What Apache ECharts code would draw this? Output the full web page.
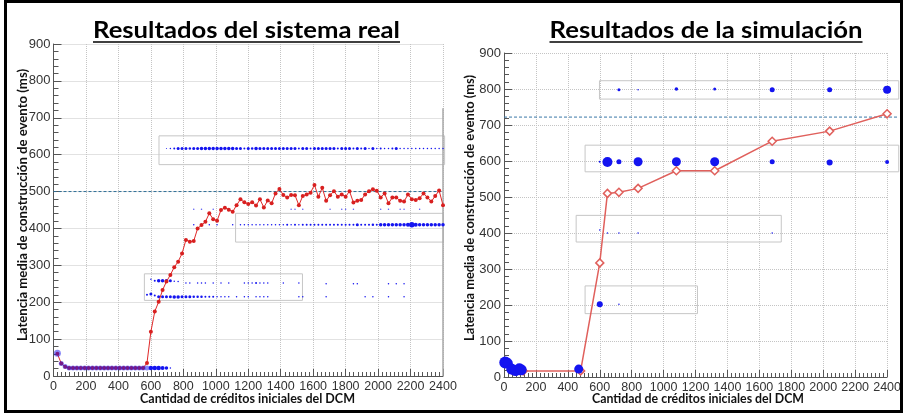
<!DOCTYPE html>
<html>
<head>
<meta charset="utf-8">
<title>Latencia media de construcción de evento</title>
<script src="https://cdn.jsdelivr.net/npm/echarts@6/dist/echarts.min.js"></script>
<style>html,body{margin:0;background:#fff;}</style>
</head>
<body>
<div id="main" style="width:904px;height:414px;"></div>
<script type="text/javascript">
// ---------- Resultados del sistema real ----------
var realX = [24,48,72,96,120,144,168,192,216,240,264,288,312,336,360,384,408,432,456,480,504,528,552,
    576,600,624,648,672,696,720,744,768,792,816,840,864,888,912,936,960,984,1008,1032,1056,1080,1104,1128,
    1152,1176,1200,1224,1248,1272,1296,1320,1344,1368,1392,1416,1440,1464,1488,1512,1536,1560,1584,1608,
    1632,1656,1680,1704,1728,1752,1776,1800,1824,1848,1872,1896,1920,1944,1968,1992,2016,2040,2064,2088,
    2112,2136,2160,2184,2208,2232,2256,2280,2304,2328,2352,2376,2400];
var realLat = [60,34,25,22,22,22,22,22,22,22,22,22,22,22,22,22,22,22,22,22,22,22,22,
    35,120,175,201,233,256,274,295,310,332,369,364,366,400,409,418,441,425,421,450,456,451,445,463,
    479,471,466,471,462,479,457,476,468,495,507,491,484,491,490,463,488,492,497,518,
    486,510,475,490,501,486,492,486,501,470,475,477,492,501,506,502,484,495,468,484,
    484,475,473,492,479,477,482,495,484,473,488,503,463];

// puntos azules [creditos, latencia, tamaño]
var realBajoSolapado = [[24,62,7],[48,34,5],[72,26,5],[96,22,5],[120,22,5],[144,22,5],[168,22,5],[192,22,5],
    [216,22,5],[240,22,5],[264,22,5],[288,22,5],[312,22,5],[336,22,5],[360,22,5],[384,22,5],[408,22,5],
    [432,22,5],[456,22,5],[480,22,5],[504,22,5],[528,22,5],[552,22,5],[576,22,5]];
var realBajoSolo = [[600,22,4.5],[624,22,4.5],[648,22,4.5],[672,22,4],[696,22,3.5],[720,22,1.5]];
var realFila617 = [[696,617,1],[720,617,1.5],[744,617,2],[768,617,3],[792,617,3],[816,617,3],[840,617,2.5],
    [864,617,3],[888,617,3],[912,617,3.5],[936,617,3.5],[960,617,3.5],[984,617,3.5],[1008,617,3.5],
    [1032,617,3.5],[1056,617,3.5],[1080,617,3.5],[1104,617,3.5],[1128,617,3],[1152,617,3],[1176,617,2],
    [1200,617,3],[1224,617,2.5],[1248,617,3.5],[1272,617,3],[1296,617,3],[1320,617,3],[1344,617,3],
    [1368,617,3],[1392,617,3],[1416,617,3],[1440,617,3],[1464,617,3],[1488,617,3],[1512,617,2],[1536,617,3],
    [1560,617,3],[1584,617,2],[1608,617,3],[1632,617,3],[1656,617,3],[1680,617,3],[1704,617,3],[1728,617,3],
    [1752,617,2],[1776,617,3],[1800,617,3],[1824,617,3],[1848,617,2],[1872,617,3],[1896,617,2],[1920,617,3],
    [1944,617,1.5],[1968,617,3],[1992,617,1.5],[2016,617,2],[2040,617,1.5],[2064,617,1.5],[2088,617,2],
    [2112,617,3],[2136,617,1.5],[2160,617,1.5],[2184,617,1.5],[2208,617,1.5],[2232,617,1.5],[2256,617,1.5],
    [2280,617,1.5],[2304,617,1.5],[2328,617,1.5],[2352,617,1.5],[2376,617,1.5],[2400,617,1.5]];
var realFila452 = [[864,452,1.5],[912,452,1.5],[984,452,1.5],[1464,452,1.5],[1488,452,1.5],[1536,452,1.5],
    [1704,452,1.5],[1776,452,1.5],[1800,452,1.5],[1848,452,1.5],[2016,452,1.5],[2064,452,1.5],
    [2136,452,1.5],[2160,452,1.5],[2256,452,1.5]];
var realFila410 = [[864,410,1.5],[912,410,1.5],[960,410,1.5],[1008,410,1.5],[1104,410,1.5],[1152,410,1.5],
    [1176,410,1.5],[1200,410,1.5],[1224,410,1.5],[1248,410,1.5],[1272,410,1.5],[1296,410,1.5],[1320,410,1.5],
    [1344,410,1.5],[1368,410,1.5],[1392,410,1.5],[1416,410,1.5],[1440,410,2],[1464,410,1.5],[1488,410,2],
    [1512,410,1.5],[1536,410,2],[1560,410,2],[1584,410,2],[1608,410,2],[1632,410,2],[1656,410,2],[1680,410,2],
    [1704,410,2],[1728,410,2],[1752,410,2],[1776,410,2],[1800,410,2],[1824,410,2],[1848,410,2],[1872,410,3],
    [1896,410,2],[1920,410,2],[1944,410,2],[1968,410,2.5],[1992,410,2],[2016,410,3.5],[2040,410,3.5],
    [2064,410,3.5],[2088,410,3.5],[2112,410,3.5],[2136,410,3.5],[2160,410,3.5],[2184,410,4],[2208,410,5.5],
    [2232,410,4],[2256,410,3.5],[2280,410,3.5],[2304,410,3.5],[2328,410,3.5],[2352,410,3.5],[2376,410,3.5],
    [2400,410,3.5]];
var realFila258 = [[600,262,1.5],[624,258,2],[648,258,3.5],[672,258,3.5],[696,258,3.5],[720,258,3],
    [744,257,1.5],[768,256,1.5],[816,252,1.5],[840,252,1.5],[888,252,1.5],[912,252,1.5],[936,252,1.5],
    [984,252,1.5],[1032,252,1.5],[1080,252,1.5],[1176,252,1.5],[1200,252,1.5],[1224,252,1.5],[1248,252,2],
    [1272,252,1.5],[1296,252,1.5],[1320,252,1.5],[1416,252,1.5],[1512,252,1.5],[1680,250,1.5],[1848,250,1.5],
    [1872,250,1.5],[2064,250,1.5],[2112,250,1.5],[2160,250,1.5]];
var realFila216 = [[576,220,2],[600,222,3],[624,218,2],[648,215,3],[672,215,3],[696,215,3],[720,215,3],
    [744,214,3.5],[768,214,3.5],[792,215,3],[816,215,3],[840,215,3],[864,215,2.5],[888,215,2.5],[912,215,2.5],
    [936,215,2],[960,215,2],[984,215,2],[1008,215,1.5],[1032,215,1.5],[1056,215,1.5],[1080,215,1.5],
    [1128,215,1.5],[1176,215,1.5],[1200,215,1.5],[1248,215,1.5],[1272,215,1.5],[1296,215,1.5],[1320,215,1.5],
    [1512,215,1.5],[1536,215,1.5],[1680,215,1.5],[1920,215,1.5],[1968,215,1.5],[2064,215,1.5],[2160,215,1.5]];
// recuadros [x1, y1, x2, y2]
var realCajas = [[650,573,2410,651],[1122,363,2402,441],[560,205,1534,277]];
var realReferencia = 500;

// ---------- Resultados de la simulación ----------
var simX = [12,48,72,96,120,480,600,648,720,840,1080,1320,1680,2040,2400];
var simLat = [40,20,17,18,17,17,317,510,513,524,573,573,655,683,731];
var simPuntos = [[8,40,12],[24,38,10],[48,22,11],[72,18,11],[96,24,10],[108,20,11],[468,22,9],
    [600,202,6],[720,202,1.5],
    [600,408,1.5],[648,400,1.5],[720,400,1.5],[840,400,1.5],[1680,400,1.5],
    [600,598,2],[648,597,10],[720,598,5],[840,598,9],[1080,598,9],[1320,598,9],[1680,598,5],[2040,596,6],[2400,597,4],
    [720,798,3],[840,798,1.5],[1080,800,3.5],[1320,800,3],[1680,798,5],[2040,798,5],[2400,798,8]];
var simCajas = [[598,772,2473,823],[508,570,2473,644],[452,375,1737,449],[508,176,1212,253]];
var simReferencia = 722;

var textoX = 'Cantidad de créditos iniciales del DCM';
var textoY = 'Latencia media de construcción de evento (ms)';

function pares(xs, ys) {
    return xs.map(function (x, i) { return [x, ys[i]]; });
}

var ctx = document.createElement('canvas').getContext('2d');
function ancho(texto, fuente) {
    ctx.font = fuente;
    return ctx.measureText(texto).width;
}

var ejeGris = '#555555';
function ejeX(idx) {
    return {
        type: 'value', gridIndex: idx, min: 0, max: 2400, interval: 200,
        axisLine: {lineStyle: {color: ejeGris, width: 1}},
        axisTick: {inside: true, length: 7, lineStyle: {color: ejeGris}},
        minorTick: {show: true, splitNumber: 8, length: 4, lineStyle: {color: ejeGris}},
        splitLine: {show: true, lineStyle: {type: 'dotted', color: '#c4c4c4'}},
        axisLabel: {fontFamily: 'Liberation Sans', fontSize: 12.5, color: '#333', margin: 4,
            hideOverlap: false, showMinLabel: true, showMaxLabel: true,
            formatter: function (v) { return String(v); }}
    };
}
function ejeY(idx) {
    return {
        type: 'value', gridIndex: idx, min: 0, max: 900, interval: 100,
        axisLine: {show: true, lineStyle: {color: ejeGris, width: 1}},
        axisTick: {show: true, inside: true, length: 8, lineStyle: {color: ejeGris}},
        minorTick: {show: true, splitNumber: 5, length: 5, lineStyle: {color: ejeGris}},
        splitLine: {show: true, lineStyle: {type: 'dotted', color: '#c4c4c4'}},
        axisLabel: {fontFamily: 'Liberation Sans', fontSize: 13, color: '#333', margin: 3,
            formatter: function (v) { return String(v); }}
    };
}

function cajas(idx, datos) {
    return {
        type: 'custom', xAxisIndex: idx, yAxisIndex: idx, clip: false, silent: true, z: 1,
        data: datos,
        renderItem: function (params, api) {
            var a = api.coord([api.value(0), api.value(1)]);
            var b = api.coord([api.value(2), api.value(3)]);
            return {
                type: 'rect',
                shape: {x: Math.min(a[0], b[0]), y: Math.min(a[1], b[1]),
                        width: Math.abs(b[0] - a[0]), height: Math.abs(b[1] - a[1])},
                style: {fill: 'none', stroke: '#c6c6c6', lineWidth: 1}
            };
        }
    };
}
function lineas(idx, datos, color, guion, grosor) {
    return {
        type: 'custom', xAxisIndex: idx, yAxisIndex: idx, clip: false, silent: true, z: 2,
        data: datos,
        renderItem: function (params, api) {
            var a = api.coord([api.value(0), api.value(1)]);
            var b = api.coord([api.value(2), api.value(3)]);
            return {
                type: 'line',
                shape: {x1: a[0], y1: a[1], x2: b[0], y2: b[1]},
                style: {stroke: color, lineWidth: grosor, lineDash: guion}
            };
        }
    };
}
function azules(idx, datos, z, opacidad) {
    return {
        type: 'scatter', xAxisIndex: idx, yAxisIndex: idx, z: z, silent: true,
        symbol: 'circle',
        symbolSize: function (v) { return v[2]; },
        itemStyle: {color: '#1414f0', opacity: opacidad},
        data: datos
    };
}

var fuenteTitulo = 'bold 22px Lato';
var fuenteEje = 'bold 13px Lato';
var titulos = [
    {texto: 'Resultados del sistema real', cx: 246.5, ancho: 307},
    {texto: 'Resultados de la simulación', cx: 706, ancho: 313}
];
var graficos = [{
    type: 'rect', shape: {x: 5.5, y: 1.5, width: 896, height: 410},
    style: {fill: 'none', stroke: '#000', lineWidth: 3}, z: 100
}];
titulos.forEach(function (t) {
    var s = t.ancho / ancho(t.texto, fuenteTitulo);
    graficos.push({type: 'text', x: t.cx, y: 31, scaleX: s,
        style: {text: t.texto, font: fuenteTitulo, fill: '#000', textAlign: 'center', textVerticalAlign: 'middle', verticalAlign: 'middle'}});
    graficos.push({type: 'line', shape: {x1: t.cx - t.ancho / 2, y1: 42, x2: t.cx + t.ancho / 2, y2: 42},
        style: {stroke: '#000', lineWidth: 1.5}});
});
[{cx: 247.5, ancho: 215}, {cx: 698, ancho: 212}].forEach(function (n) {
    graficos.push({type: 'text', x: n.cx, y: 399, scaleX: n.ancho / ancho(textoX, fuenteEje),
        style: {text: textoX, font: fuenteEje, fill: '#111', textAlign: 'center', textVerticalAlign: 'middle', verticalAlign: 'middle'}});
});
[{cx: 22.5, cy: 205, ancho: 272}, {cx: 470, cy: 208, ancho: 266}].forEach(function (n) {
    graficos.push({type: 'text', x: n.cx, y: n.cy, rotation: Math.PI / 2, scaleX: n.ancho / ancho(textoY, fuenteEje),
        style: {text: textoY, font: fuenteEje, fill: '#111', textAlign: 'center', textVerticalAlign: 'middle', verticalAlign: 'middle'}});
});

var myChart = echarts.init(document.getElementById('main'));
var option = {
    animation: false,
    backgroundColor: '#fff',
    grid: [
        {left: 53.5, top: 44, width: 389.5, height: 332},
        {left: 504, top: 53, width: 384, height: 324}
    ],
    xAxis: [ejeX(0), ejeX(1)],
    yAxis: [ejeY(0), ejeY(1)],
    graphic: graficos,
    series: [
        cajas(0, realCajas),
        lineas(0, [[0, realReferencia, 2400, realReferencia]], '#2e6e96', [3, 2], 1),
        lineas(0, [[2400, 0, 2400, 726]], '#a8a8a8', null, 1.5),
        azules(0, realFila617, 3, 1),
        azules(0, realFila452, 3, 0.7),
        azules(0, realFila410, 3, 1),
        azules(0, realFila258, 3, 1),
        azules(0, realFila216, 3, 1),
        azules(0, realBajoSolo, 3, 1),
        {
            type: 'line', xAxisIndex: 0, yAxisIndex: 0, z: 4, silent: true,
            data: pares(realX, realLat),
            symbol: 'circle', symbolSize: 4, showSymbol: true,
            lineStyle: {color: '#e02828', width: 1},
            itemStyle: {color: '#d82020'}
        },
        azules(0, realBajoSolapado, 5, 0.5),

        cajas(1, simCajas),
        lineas(1, [[0, simReferencia, 2468, simReferencia]], '#3a78a8', [3, 2], 1),
        {
            type: 'line', xAxisIndex: 1, yAxisIndex: 1, z: 3, silent: true,
            data: pares(simX, simLat),
            symbol: 'diamond', symbolSize: 8, showSymbol: true,
            lineStyle: {color: '#e0605c', width: 1.5},
            itemStyle: {color: '#fff', borderColor: '#e0605c', borderWidth: 1.5}
        },
        azules(1, simPuntos, 4, 1)
    ]
};
myChart.setOption(option);
</script>
</body>
</html>
